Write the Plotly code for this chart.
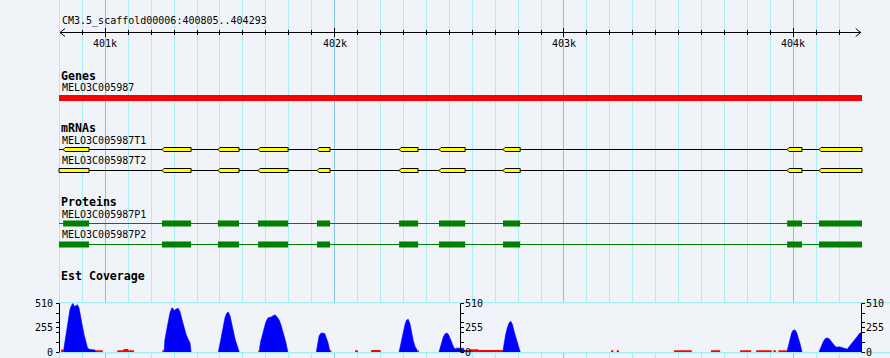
import plotly.graph_objects as go

# ---------------- data ----------------
view_label = "CM3.5_scaffold00006:400805..404293"
view_start, view_end = 400805, 404293
major_ticks = [401000, 402000, 403000, 404000]
major_tick_text = ["401k", "402k", "403k", "404k"]

gene_name = "MELO3C005987"
gene_start, gene_end = 400600, 404500          # gene runs past both view edges

mrna_names = ["MELO3C005987T1", "MELO3C005987T2"]
mrna_T1_starts = [400816, 401247, 401491, 401666, 401923, 402281, 402455, 402734, 403973, 404112]
mrna_T1_ends   = [400929, 401374, 401583, 401797, 401980, 402364, 402569, 402809, 404038, 404500]
mrna_T2_starts = [400600, 401247, 401491, 401666, 401923, 402281, 402455, 402734, 403973, 404112]
mrna_T2_ends   = [400929, 401374, 401583, 401797, 401980, 402364, 402569, 402809, 404038, 404500]

protein_names = ["MELO3C005987P1", "MELO3C005987P2"]
cds_P1_starts = [400816, 401247, 401491, 401666, 401923, 402281, 402455, 402734, 403973, 404112]
cds_P1_ends   = [400929, 401374, 401583, 401797, 401980, 402364, 402569, 402809, 404038, 404500]
cds_P2_starts = [400600, 401247, 401491, 401666, 401923, 402281, 402455, 402734, 403973, 404112]
cds_P2_ends   = [400929, 401374, 401583, 401797, 401980, 402364, 402569, 402809, 404038, 404500]

# Est coverage (blue): positions (bp) and depth
cov_peak_pos = [
    [400817, 400821, 400826, 400832, 400839, 400846, 400853, 400859, 400865, 400871, 400878, 400885,
     400893, 400900, 400907, 400915, 400922, 400930, 400942, 400955, 400956],
    [401256, 401260, 401268, 401275, 401282, 401290, 401294, 401300, 401307, 401318, 401326, 401334,
     401343, 401352, 401361, 401369, 401374],
    [401493, 401500, 401508, 401515, 401522, 401529, 401536, 401544, 401551, 401558, 401566, 401573,
     401580, 401584],
    [401672, 401673, 401678, 401685, 401692, 401700, 401707, 401714, 401721, 401728, 401737, 401743,
     401750, 401758, 401765, 401772, 401779, 401787, 401791, 401796],
    [401920, 401926, 401932, 401939, 401948, 401957, 401964, 401971, 401977, 401980],
    [402281, 402285, 402293, 402300, 402307, 402314, 402321, 402329, 402336, 402343, 402351, 402358,
     402361],
    [402455, 402460, 402467, 402474, 402481, 402489, 402496, 402503, 402511, 402518, 402525, 402529,
     402533, 402561, 402569],
    [402733, 402739, 402746, 402753, 402761, 402768, 402775, 402782, 402790, 402797, 402804, 402809],
    [403972, 403979, 403986, 403993, 404000, 404008, 404015, 404022, 404030, 404037, 404038],
    [404112, 404121, 404130, 404139, 404147, 404156, 404165, 404174, 404182, 404191, 404200, 404208,
     404217, 404226, 404235, 404243, 404252, 404261, 404269, 404278, 404287, 404296, 404296],
]
cov_peak_val = [
    [0, 63, 168, 255, 360, 447, 489, 510, 475, 482, 495, 464, 377, 272, 185, 98, 45, 28, 28, 21, 0],
    [0, 133, 237, 325, 412, 461, 461, 433, 447, 457, 419, 342, 255, 185, 133, 98, 0],
    [0, 98, 185, 272, 360, 405, 419, 377, 290, 202, 133, 80, 35, 0],
    [0, 45, 115, 185, 255, 314, 349, 363, 363, 377, 387, 384, 366, 335, 290, 237, 168, 105, 56, 0],
    [0, 115, 168, 195, 199, 192, 150, 98, 35, 0],
    [0, 45, 133, 220, 290, 335, 342, 290, 202, 115, 56, 28, 0],
    [0, 45, 105, 160, 188, 199, 185, 150, 98, 56, 28, 40, 40, 40, 0],
    [0, 98, 185, 255, 307, 321, 290, 220, 150, 80, 28, 0],
    [0, 63, 133, 202, 230, 230, 202, 150, 80, 10, 0],
    [0, 56, 105, 140, 147, 140, 115, 80, 60, 49, 55, 50, 42, 35, 30, 55, 80, 105, 126, 160, 190, 205, 0],
]

# low-coverage stretches (red)
low_starts = [400807, 400955, 401052, 401079, 401100, 401248, 401667, 401977, 402089, 402159, 402361,
              402525, 402590, 402627, 403205, 403230, 403480, 403641, 403768, 403838, 403913, 403935]
low_ends   = [400817, 400989, 401079, 401100, 401125, 401256, 401672, 401986, 402101, 402201, 402367,
              402590, 402627, 402736, 403215, 403240, 403557, 403681, 403816, 403906, 403924, 403972]
low_values = [25, 18, 18, 32, 18, 18, 18, 18, 18, 20, 18,
              20, 30, 20, 18, 18, 18, 18, 18, 18, 18, 18]

cov_max = 510
cov_tick_labels = ["510", "255", "0"]

# ---------------- geometry / style ----------------
W, H = 890, 358
PX0, BP0, PX_PER_BP = 105.33, 401000, 0.22933
def px2bp(px):
    return BP0 + (px - PX0) / PX_PER_BP
def bp2px(bp):
    return PX0 + (bp - BP0) * PX_PER_BP
def crisp_bp(bp):
    # centre a 1-px line on a pixel so it is drawn sharp
    return px2bp(int(bp2px(bp)) + 0.5)
X_RANGE = [px2bp(0), px2bp(W)]
CLIP_LO, CLIP_HI = px2bp(59), px2bp(862)

BG = "#F0F4F9"
GRID_MINOR = "#A8EEF0"
GRID_MAJOR = "#88C4E0"
MONO = "DejaVu Sans Mono"

COV_TOP_PX, COV_BOT_PX = 303.3, 352.0
def val2px(v):
    return COV_BOT_PX - (COV_BOT_PX - COV_TOP_PX) * v / cov_max

fig = go.Figure()
shapes = []
annotations = []

def text(x_px, y_px, s, size=10, bold=False, anchor="left"):
    annotations.append(dict(
        x=px2bp(x_px), y=y_px, xref="x", yref="y", text=("<b>%s</b>" % s) if bold else s,
        showarrow=False, xanchor=anchor, yanchor="middle",
        font=dict(family=MONO, size=size, color="black"), borderpad=0))

# vertical grid every 100 bp
for bp in range(400800, 404201, 100):
    major = bp % 1000 == 0
    xb = crisp_bp(bp)
    shapes.append(dict(type="line", xref="x", yref="y", x0=xb, x1=xb, y0=0, y1=H,
                       line=dict(color=GRID_MAJOR if major else GRID_MINOR, width=1), layer="below"))

# coverage horizontal grid
for v in [0, 102, 204, 306, 408, 510]:
    yp = int(val2px(v)) + 0.5
    shapes.append(dict(type="line", xref="x", yref="y", x0=px2bp(60), x1=px2bp(W), y0=yp, y1=yp,
                       line=dict(color=GRID_MINOR, width=3 if v == cov_max else 2), layer="below"))

# ---------------- ruler ----------------
RULER_Y = 32.5
shapes.append(dict(type="line", xref="x", yref="y", x0=px2bp(60), x1=px2bp(860.7), y0=RULER_Y, y1=RULER_Y,
                   line=dict(color="black", width=1)))
for bp in range(400900, 404201, 100):
    h = 4.5 if bp % 1000 == 0 else 2.5
    xb = crisp_bp(bp)
    shapes.append(dict(type="line", xref="x", yref="y", x0=xb, x1=xb, y0=RULER_Y - h, y1=RULER_Y + h,
                       line=dict(color="black", width=1)))
for sx, tx in [(60, 65), (860.7, 855.7)]:
    shapes.append(dict(type="path", xref="x", yref="y",
                       path="M %f,%f L %f,%f L %f,%f" % (px2bp(tx), RULER_Y - 4, px2bp(sx), RULER_Y,
                                                         px2bp(tx), RULER_Y + 4),
                       line=dict(color="black", width=1)))
text(60.5, 20.5, view_label)
for bp, lab in zip(major_ticks, major_tick_text):
    annotations.append(dict(x=bp, y=43, xref="x", yref="y", text=lab, showarrow=False,
                            xanchor="center", yanchor="middle",
                            font=dict(family=MONO, size=10, color="black")))

# ---------------- genes ----------------
def clip(a, b):
    return max(a, CLIP_LO), min(b, CLIP_HI)

text(59.5, 76, "Genes", size=11.6, bold=True)
text(60.5, 87.7, gene_name)
g0, g1 = clip(gene_start, gene_end)
fig.add_trace(go.Scatter(x=[g0, g1, g1, g0, g0], y=[95, 95, 101, 101, 95], fill="toself",
                         fillcolor="#FF0000", line=dict(width=0), mode="lines", hoverinfo="skip"))

# ---------------- mRNAs ----------------
text(59.5, 128.3, "mRNAs", size=11.6, bold=True)
notch = 2 / PX_PER_BP
for name, starts, ends, ly, gy in [(mrna_names[0], mrna_T1_starts, mrna_T1_ends, 140.7, 149.5),
                                    (mrna_names[1], mrna_T2_starts, mrna_T2_ends, 160.7, 170.5)]:
    text(60.5, ly, name)
    fig.add_trace(go.Scatter(x=[CLIP_LO, CLIP_HI], y=[gy, gy], mode="lines",
                             line=dict(color="black", width=1), hoverinfo="skip"))
    xs, ys = [], []
    for s, e in zip(starts, ends):
        cs, ce = clip(s, e)
        top, bot = gy - 2, gy + 2
        if s >= CLIP_LO:
            xs += [cs, cs + notch, ce, ce, cs + notch, cs, None]
            ys += [gy, top, top, bot, bot, gy, None]
        else:
            xs += [cs, ce, ce, cs, cs, None]
            ys += [top, top, bot, bot, top, None]
    fig.add_trace(go.Scatter(x=xs, y=ys, mode="lines", fill="toself", fillcolor="#FFFF00",
                             line=dict(color="black", width=1), hoverinfo="skip"))

# ---------------- proteins ----------------
text(59.5, 202, "Proteins", size=11.6, bold=True)
for name, starts, ends, ly, gy in [(protein_names[0], cds_P1_starts, cds_P1_ends, 214.3, 223.5),
                                    (protein_names[1], cds_P2_starts, cds_P2_ends, 234.7, 244.5)]:
    text(60.5, ly, name)
    fig.add_trace(go.Scatter(x=[CLIP_LO, CLIP_HI], y=[gy, gy], mode="lines",
                             line=dict(color="#008000", width=1), hoverinfo="skip"))
    xs, ys = [], []
    for s, e in zip(starts, ends):
        cs, ce = clip(s, e)
        top, bot = gy - 3, gy + 3
        xs += [cs, ce, ce, cs, cs, None]
        ys += [top, top, bot, bot, top, None]
    fig.add_trace(go.Scatter(x=xs, y=ys, mode="lines", fill="toself", fillcolor="#008000",
                             line=dict(width=0, color="#008000"), hoverinfo="skip"))

# ---------------- Est coverage ----------------
text(59.5, 276, "Est Coverage", size=11.6, bold=True)
lx, lyv = [], []
for s, e, v in zip(low_starts, low_ends, low_values):
    lx += [s, e, e, s, s, None]
    lyv += [0, 0, v, v, 0, None]
fig.add_trace(go.Scatter(x=lx, y=lyv, yaxis="y2", mode="lines", fill="toself", fillcolor="#FF0000",
                         line=dict(width=0, color="#FF0000"), hoverinfo="skip"))
cx, cy = [], []
for pos, val in zip(cov_peak_pos, cov_peak_val):
    cx += [max(p, CLIP_LO) for p in pos] + [None]
    cy += val + [None]
fig.add_trace(go.Scatter(x=cx, y=cy, yaxis="y2", mode="lines", fill="toself", fillcolor="#0000FF",
                         line=dict(width=0.6, color="#0000FF"), hoverinfo="skip"))

# coverage scales
tick_vals = [0, 102, 204, 255, 306, 408, 510]
label_vals = [510, 255, 0]
for axis_px, side in [(59.5, "left"), (460.5, "right"), (861.5, "right")]:
    ax_bp = px2bp(axis_px)
    shapes.append(dict(type="line", xref="x", yref="y2", x0=ax_bp, x1=ax_bp, y0=0, y1=cov_max,
                       line=dict(color="black", width=1)))
    for v in tick_vals:
        yp = int(val2px(v)) + 0.5
        if side == "left":
            x0, x1 = px2bp(axis_px - 3.5), ax_bp
        else:
            x0, x1 = ax_bp, px2bp(axis_px + 3.5)
        shapes.append(dict(type="line", xref="x", yref="y", x0=x0, x1=x1, y0=yp, y1=yp,
                           line=dict(color="black", width=1)))
    for v, lab in zip(label_vals, cov_tick_labels):
        if side == "left":
            xa, anc = px2bp(axis_px - 4.5), "right"
        else:
            xa, anc = px2bp(axis_px + 2.5), "left"
        annotations.append(dict(x=xa, y=v, xref="x", yref="y2", text=lab, showarrow=False,
                                xanchor=anc, yanchor="middle",
                                font=dict(family=MONO, size=10, color="black")))

fig.update_layout(
    width=W, height=H, autosize=False,
    margin=dict(l=0, r=0, t=0, b=0, pad=0),
    paper_bgcolor=BG, plot_bgcolor=BG,
    showlegend=False,
    xaxis=dict(range=X_RANGE, visible=False, domain=[0, 1], fixedrange=True),
    yaxis=dict(range=[H, 0], visible=False, domain=[0, 1], fixedrange=True),
    yaxis2=dict(range=[0, cov_max], visible=False, anchor="x",
                domain=[(H - COV_BOT_PX) / H, (H - COV_TOP_PX) / H], fixedrange=True),
    shapes=shapes,
    annotations=annotations,
)

fig.write_html("out.html")
